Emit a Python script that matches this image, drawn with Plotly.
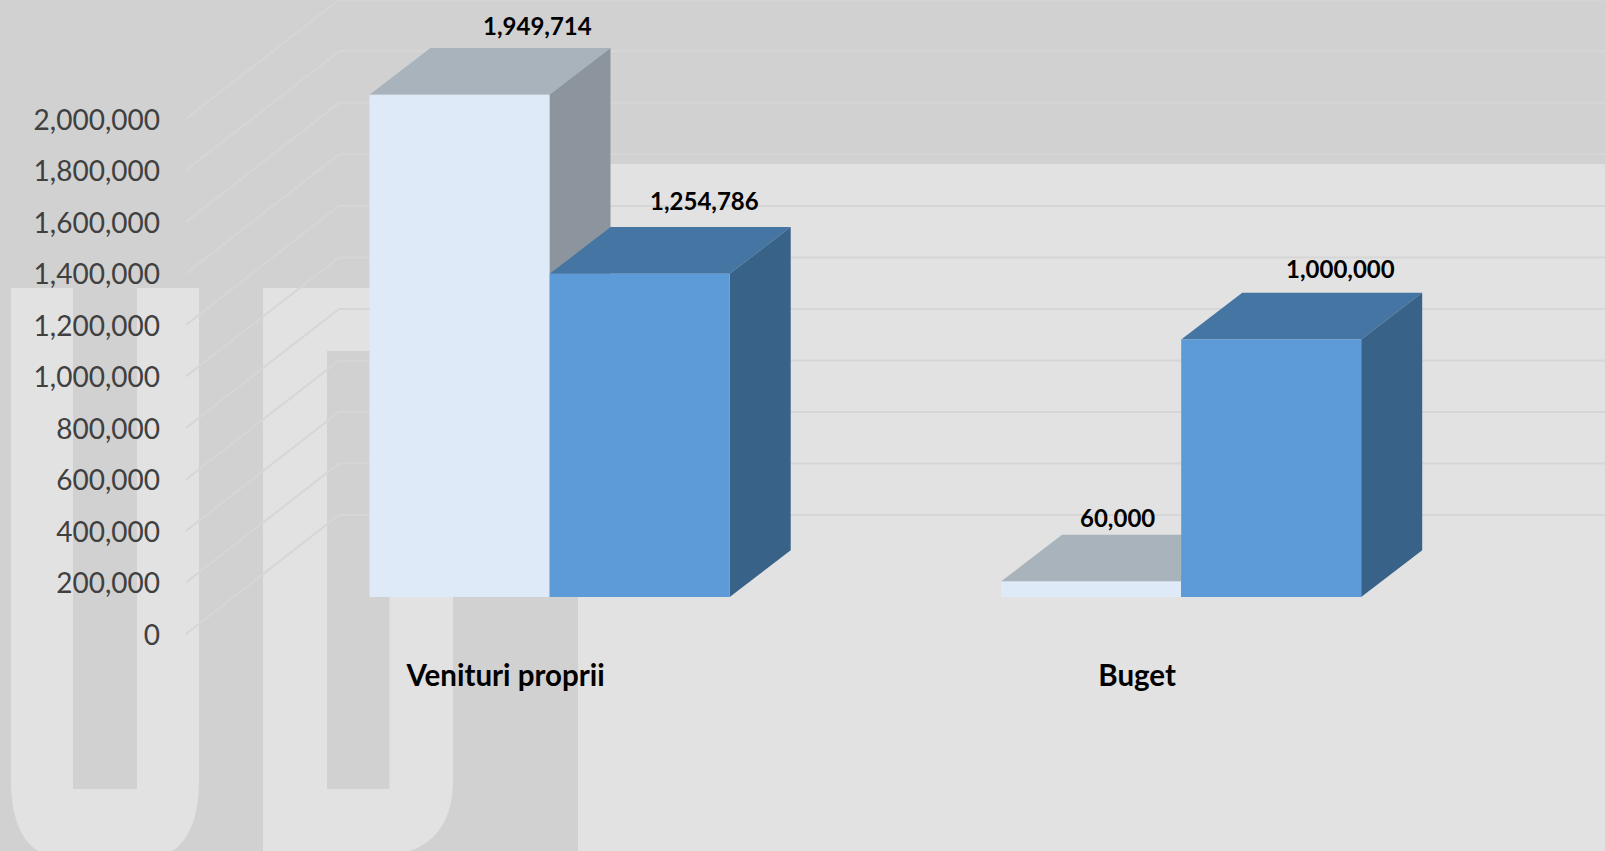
import plotly.graph_objects as go

# ---------- data ----------
categories = ["Venituri proprii", "Buget"]
series_light = [1949714, 60000]
series_blue = [1254786, 1000000]
y_ticks = [0, 200000, 400000, 600000, 800000, 1000000, 1200000, 1400000, 1600000, 1800000, 2000000]

# ---------- geometry (pixels of the 1605x851 canvas) ----------
W, H = 1605, 851
PX_PER_UNIT = 257.6 / 1e6        # vertical scale
BASE_PX = 597.0                  # y pixel of value 0 on the front of the bars
WALL_ZERO_PX = 634.0             # y pixel of value 0 on the front edge of the side wall
LABEL_ZERO_PX = 635.0            # y pixel of the "0" tick label
BACK_ZERO_PX = 515.0             # y pixel of value 0 on the back wall
CAT0_PX, CAT_STEP_PX = 505.6, 631.5
BAR_W_PX = 180.0
LIGHT_LEFT_PX, BLUE_LEFT_PX = 369.5, 549.7
DEPTH_X_PX, DEPTH_Y_PX = 61.0, 46.7
WALL_FRONT_X_PX, WALL_BACK_X_PX = 186.0, 339.0

def x_units(px):
    return px / CAT_STEP_PX

def y_units(px):
    return px / PX_PER_UNIT

x_range = [(0 - CAT0_PX) / CAT_STEP_PX, (W - CAT0_PX) / CAT_STEP_PX]
y_range = [y_units(BASE_PX - H), y_units(BASE_PX)]
y2_range = [y_units(LABEL_ZERO_PX - H), y_units(LABEL_ZERO_PX)]

offset_light = x_units(LIGHT_LEFT_PX - CAT0_PX)
offset_blue = x_units(BLUE_LEFT_PX - CAT0_PX)
bar_w = x_units(BAR_W_PX)
dx, dy = x_units(DEPTH_X_PX), y_units(DEPTH_Y_PX)

# ---------- colours ----------
BG_LIGHT, BG_GREY = "#E2E2E2", "#D1D1D1"
GRID = "#D6D6D6"
LIGHT_FACES = dict(front="#DEEAF8", top="#A8B3BB", side="#8C959D")
BLUE_FACES = dict(front="#5C9AD8", top="#4575A2", side="#386287")
FONT = "Lato, Carlito, Calibri, sans-serif"

fig = go.Figure()

# ---------- walls: one diagonal + back line per axis tick ----------
grid_x, grid_y = [], []
front_shift = y_units(BASE_PX - WALL_ZERO_PX)
back_shift = y_units(BASE_PX - BACK_ZERO_PX)
for t in y_ticks:
    grid_x += [x_range[0] + x_units(WALL_FRONT_X_PX), x_range[0] + x_units(WALL_BACK_X_PX), x_range[1], None]
    grid_y += [t + front_shift, t + back_shift, t + back_shift, None]
fig.add_trace(go.Scatter(x=grid_x, y=grid_y, mode="lines", line=dict(color=GRID, width=2),
                         hoverinfo="skip", showlegend=False, zorder=0))


def add_series(values, offset, faces, z):
    for i, v in enumerate(values):
        left, right = i + offset, i + offset + bar_w
        # top face
        fig.add_trace(go.Scatter(
            x=[left, right, right + dx, left + dx, left],
            y=[v, v, v + dy, v + dy, v],
            mode="lines", fill="toself", fillcolor=faces["top"], line=dict(width=0),
            hoverinfo="skip", showlegend=False, zorder=z))
        # side face
        fig.add_trace(go.Scatter(
            x=[right, right + dx, right + dx, right, right],
            y=[0, dy, v + dy, v, 0],
            mode="lines", fill="toself", fillcolor=faces["side"], line=dict(width=0),
            hoverinfo="skip", showlegend=False, zorder=z))
    # front face
    fig.add_trace(go.Bar(x=list(range(len(values))), y=values, width=bar_w, offset=offset,
                         marker=dict(color=faces["front"], line=dict(width=0)),
                         hoverinfo="skip", showlegend=False, zorder=z + 1))


add_series(series_light, offset_light, LIGHT_FACES, 1)
add_series(series_blue, offset_blue, BLUE_FACES, 3)

# invisible trace that keeps the tick-label axis alive
fig.add_trace(go.Scatter(x=[0] * len(y_ticks), y=y_ticks, yaxis="y2", mode="markers",
                         marker=dict(opacity=0), hoverinfo="skip", showlegend=False))

# ---------- value labels ----------
label_shift_light = [(78, 69), (26, 64)]
label_shift_blue = [(65, 73), (69, 70.5)]
annotations = []
for values, offset, shifts in ((series_light, offset_light, label_shift_light),
                               (series_blue, offset_blue, label_shift_blue)):
    for i, v in enumerate(values):
        annotations.append(dict(
            x=i + offset + bar_w / 2, y=v, xref="x", yref="y", text=f"{v:,}", showarrow=False,
            xanchor="center", yanchor="middle", xshift=shifts[i][0], yshift=shifts[i][1],
            font=dict(family=FONT, size=24, color="#000000", weight="bold")))

# ---------- watermark behind the chart ----------
def px(x):
    return x / W

def py(y):
    return 1 - y / H

def rect(x0, y0, x1, y1, color):
    return dict(type="rect", xref="paper", yref="paper", layer="below", line=dict(width=0),
                fillcolor=color, x0=px(x0), x1=px(x1), y0=py(y1), y1=py(y0))

def path(points, color):
    d = ""
    for cmd, *xy in points:
        d += cmd + " ".join(f"{px(xy[j]):.5f},{py(xy[j + 1]):.5f}" for j in range(0, len(xy), 2)) + " "
    return dict(type="path", xref="paper", yref="paper", layer="below", line=dict(width=0),
                fillcolor=color, path=d + "Z")

shapes = [
    rect(0, 0, W, 164, BG_GREY),
    rect(0, 164, 578, H, BG_GREY),
    # first letter
    path([("M", 11, 288), ("L", 199, 288), ("L", 199, 780),
          ("C", 199, 815, 190, 840, 172, H), ("L", 38, H),
          ("C", 20, 840, 11, 815, 11, 780)], BG_LIGHT),
    rect(73, 288, 137, 789, BG_GREY),
    # second letter
    path([("M", 263, 288), ("L", 453, 288), ("L", 453, 780),
          ("C", 453, 815, 440, 840, 410, H), ("L", 263, H)], BG_LIGHT),
    rect(327, 351, 389.5, 789, BG_GREY),
]

fig.update_layout(
    width=W, height=H, autosize=False, margin=dict(l=0, r=0, t=0, b=0, pad=0),
    paper_bgcolor=BG_LIGHT, plot_bgcolor="rgba(0,0,0,0)",
    barmode="overlay", showlegend=False, shapes=shapes, annotations=annotations,
    xaxis=dict(range=x_range, tickmode="array", tickvals=list(range(len(categories))), ticktext=categories,
               anchor="free", position=py(655), showgrid=False, zeroline=False, showline=False, ticks="",
               tickfont=dict(family=FONT, size=29.5, color="#000000", weight="bold")),
    yaxis=dict(range=y_range, visible=False, fixedrange=True),
    yaxis2=dict(range=y2_range, overlaying="y", anchor="free", position=px(160), side="left",
                tickmode="array", tickvals=y_ticks, tickformat=",d", ticks="", showgrid=False,
                zeroline=False, showline=False, fixedrange=True,
                tickfont=dict(family=FONT, size=28, color="#404040")),
)

fig.write_html("out.html", config=dict(displayModeBar=False),
               post_script="document.body.style.margin='0';document.body.style.overflow='hidden';")
